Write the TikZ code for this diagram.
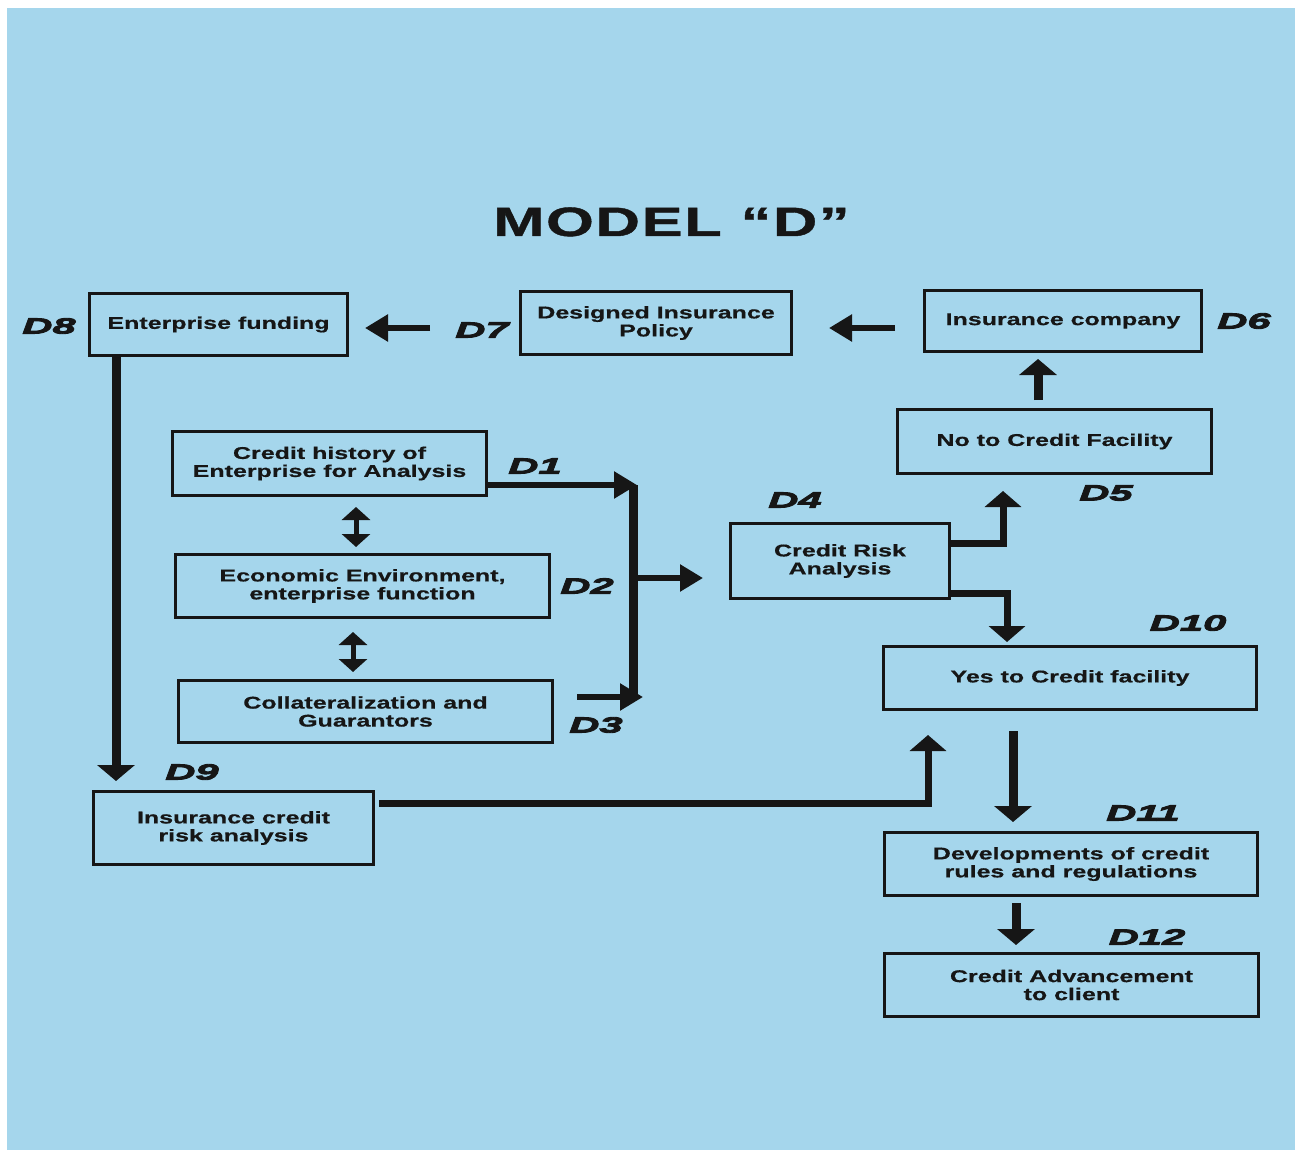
\documentclass[tikz,border=0pt]{standalone}
\usepackage{fontspec}
\usetikzlibrary{arrows.meta}
\newfontfamily\boxfont{Liberation Sans}[FakeStretch=1.47,FakeBold=0.6]
\newfontfamily\labfont{Liberation Sans}[FakeStretch=1.9,FakeBold=4]
\newfontfamily\titlefont{Liberation Sans}[FakeStretch=1.5,LetterSpace=4,FakeBold=1]
\definecolor{bg}{RGB}{165,214,236}
\definecolor{ink}{RGB}{22,22,22}
\begin{document}
\begin{tikzpicture}[x=1pt,y=-1pt,
  box/.style={draw=ink, line width=3pt, inner sep=0pt, align=center, text=ink,
    font=\boxfont\bfseries\fontsize{17}{18}\selectfont},
  lab/.style={text=ink, inner sep=0pt, font=\labfont\bfseries\itshape\fontsize{22}{22}\selectfont},
  tarrow/.style={draw=ink, line width=5.5pt, -{Triangle[length=23pt,width=26pt]}},
  warrow/.style={draw=ink, line width=9pt, -{Triangle[length=16pt,width=37pt]}},
  barrow/.style={draw=ink, line width=7pt, line join=miter, -{Triangle[length=16pt,width=36pt]}},
  dbl/.style={draw=ink, line width=5pt, {Triangle[length=13pt,width=28pt]}-{Triangle[length=13pt,width=28pt]}},
]
\useasboundingbox (0,0) rectangle (1295,1150);
\fill[white] (0,0) rectangle (1295,1150);
\fill[bg] (7,8) rectangle (1295,1150);

\node[text=ink, inner sep=0pt, anchor=base, font=\titlefont\bfseries\fontsize{41}{41}\selectfont] (title) at (671.5,236) {MODEL “D”};

% boxes
\node[box, minimum width=258pt, minimum height=62pt] (d8) at (218.5,324.5) {Enterprise funding};
\node[box, minimum width=271pt, minimum height=63pt] (d7) at (656,323) {Designed Insurance\\Policy};
\node[box, minimum width=277pt, minimum height=61pt] (d6) at (1063,321) {Insurance company};
\node[box, minimum width=314pt, minimum height=64pt] (d5) at (1054.5,441.5) {No to Credit Facility};
\node[box, minimum width=314pt, minimum height=64pt] (d1) at (329.5,463.5) {Credit history of\\Enterprise for Analysis};
\node[box, minimum width=374pt, minimum height=63pt] (d2) at (362.5,586) {Economic Environment,\\enterprise function};
\node[box, minimum width=374pt, minimum height=62pt] (d3) at (365.5,711.5) {Collateralization and\\Guarantors};
\node[box, minimum width=219pt, minimum height=75pt] (d4) at (840,561) {Credit Risk\\Analysis};
\node[box, minimum width=373pt, minimum height=63pt] (d10) at (1070,678) {Yes to Credit facility};
\node[box, minimum width=373pt, minimum height=63pt] (d11) at (1071,864) {Developments of credit\\rules and regulations};
\node[box, minimum width=374pt, minimum height=63pt] (d12) at (1071.5,985) {Credit Advancement\\to client};
\node[box, minimum width=280pt, minimum height=73pt] (d9) at (233.5,828) {Insurance credit\\risk analysis};

% labels
\node[lab] (l8) at (49,326) {D8};
\node[lab] (l7) at (482,330) {D7};
\node[lab] (l6) at (1244,321) {D6};
\node[lab] (l5) at (1106,493) {D5};
\node[lab] (l1) at (535,466) {D1};
\node[lab] (l2) at (587,586) {D2};
\node[lab] (l3) at (596,725) {D3};
\node[lab] (l4) at (795,500) {D4};
\node[lab] (l9) at (192,772) {D9};
\node[lab] (l10) at (1188,623) {D10};
\node[lab] (l11) at (1143,813) {D11};
\node[lab] (l12) at (1147,937) {D12};

% collecting bar
\coordinate (barT) at (633,485);
\coordinate (barM) at (633,578);
\coordinate (barB) at (633,700);
\draw[ink, line width=9pt] (barT) -- (barB);

% connectors
\draw[tarrow] ([xshift=-28pt,yshift=-7pt]d6.west) -- ([xshift=36pt,yshift=-5pt]d7.east);
\draw[tarrow] ([xshift=-89pt,yshift=-5pt]d7.west) -- ([xshift=16pt,yshift=-3.5pt]d8.east);
\draw[warrow] ([xshift=-16.5pt,yshift=8pt]d5.north) -- ([xshift=-25pt,yshift=-6pt]d6.south);
\draw[warrow] ([xshift=-102.5pt]d8.south) -- ([xshift=-117.5pt,yshift=9pt]d9.north);
\draw[dbl] ([xshift=26.5pt,yshift=-10pt]d1.south) -- ([xshift=-6.5pt,yshift=6pt]d2.north);
\draw[dbl] ([xshift=-9.5pt,yshift=-13pt]d2.south) -- ([xshift=-12.5pt,yshift=7pt]d3.north);
\draw[tarrow] ([yshift=-21.5pt]d1.east) -- ([xshift=4pt]barT);
\draw[tarrow] ([xshift=23pt,yshift=14.5pt]d3.east) -- ([xshift=10pt,yshift=3pt]barB);
\draw[tarrow] ([xshift=4pt]barM) -- ([xshift=-26pt,yshift=-17pt]d4.west);
\draw[barrow] ([yshift=18pt]d4.east) -| ([xshift=-51.5pt,yshift=-16pt]d5.south);
\draw[barrow] ([yshift=-32pt]d4.east) -| ([xshift=-63pt,yshift=3pt]d10.north);
\draw[barrow] ([xshift=4pt,yshift=25pt]d9.east) -| ([xshift=-142pt,yshift=-24pt]d10.south);
\draw[warrow] ([xshift=-57pt,yshift=-20pt]d10.south) -- ([xshift=-58pt,yshift=9pt]d11.north);
\draw[warrow] ([xshift=-55pt,yshift=-6pt]d11.south) -- ([xshift=-55.5pt,yshift=7pt]d12.north);
\end{tikzpicture}
\end{document}
